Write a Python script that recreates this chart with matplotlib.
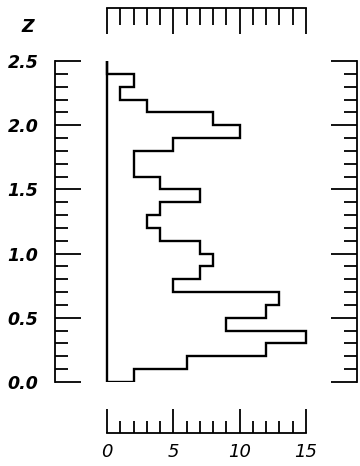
import matplotlib
matplotlib.use('Agg')
import matplotlib.pyplot as plt
from matplotlib.ticker import MultipleLocator
import numpy as np

# counts per 0.1 bin of z, from z=0.0 up to z=2.5
z_edges = [round(0.1 * i, 1) for i in range(26)]
counts = [2, 6, 12, 15, 9, 12, 13, 5, 7, 8, 7, 4, 3, 4, 7, 4, 2, 2, 5, 10, 8, 3, 1, 2, 0]
z_ticks = [0.0, 0.5, 1.0, 1.5, 2.0, 2.5]
z_labels = ['0.0', '0.5', '1.0', '1.5', '2.0', '2.5']
n_ticks = [0, 5, 10, 15]
n_labels = ['0', '5', '10', '15']

W, H = 360, 466
fig = plt.figure(figsize=(W / 100, H / 100), dpi=100)

def px(x0, y0, x1, y1):
    # pixel box -> figure fraction rect
    return [x0 / W, 1 - y1 / H, (x1 - x0) / W, (y1 - y0) / H]

lw = 1.3
label_font = dict(fontsize=12.5, fontstyle='italic', fontweight='bold', family='DejaVu Sans')

# main panel
x0_px, x15_px = 107, 306
ppu = (x15_px - x0_px) / 15
left_px, right_px = 55, 357
ax = fig.add_axes(px(left_px, 61, right_px, 382))
ax.set_xlim((left_px - x0_px) / ppu, (right_px - x0_px) / ppu)
ax.set_ylim(0, 2.5)

ax.stairs(counts, z_edges, orientation='horizontal', baseline=0,
          color='black', linewidth=1.7)
ax.plot([0, 0], [0, 2.5], color='black', linewidth=1.7)

for s in ['top', 'bottom']:
    ax.spines[s].set_visible(False)
for s in ['left', 'right']:
    ax.spines[s].set_linewidth(lw)

ax.set_xticks([])
ax.set_yticks(z_ticks)
ax.set_yticklabels(z_labels, **label_font)
ax.yaxis.set_minor_locator(MultipleLocator(0.1))
ax.tick_params(axis='y', which='both', direction='in', left=True, right=True,
               width=lw, pad=12)
ax.tick_params(axis='y', which='major', length=19)
ax.tick_params(axis='y', which='minor', length=9.5)

fig.text(28 / W, 1 - 27 / H, 'Z', ha='center', va='center', **label_font)

# top scale (detached, ticks down)
ax_top = fig.add_axes(px(x0_px, 8, x15_px, 8.01))
ax_top.set_xlim(0, 15)
for s in ['top', 'left', 'right']:
    ax_top.spines[s].set_visible(False)
ax_top.spines['bottom'].set_linewidth(lw)
ax_top.set_yticks([])
ax_top.set_xticks(n_ticks)
ax_top.set_xticklabels([])
ax_top.xaxis.set_minor_locator(MultipleLocator(1))
ax_top.tick_params(axis='x', which='both', direction='out', width=lw)
ax_top.tick_params(axis='x', which='major', length=19)
ax_top.tick_params(axis='x', which='minor', length=12)

# bottom scale (detached, ticks up)
ax_bot = fig.add_axes(px(x0_px, 433, x15_px, 433.01))
ax_bot.set_xlim(0, 15)
for s in ['top', 'left', 'right']:
    ax_bot.spines[s].set_visible(False)
ax_bot.spines['bottom'].set_linewidth(lw)
ax_bot.set_yticks([])
ax_bot.set_xticks(n_ticks)
ax_bot.set_xticklabels(n_labels, fontsize=13, fontstyle='italic', family='DejaVu Sans')
ax_bot.xaxis.set_minor_locator(MultipleLocator(1))
ax_bot.tick_params(axis='x', which='both', direction='in', width=lw, pad=7)
ax_bot.tick_params(axis='x', which='major', length=17)
ax_bot.tick_params(axis='x', which='minor', length=8.5)

fig.savefig('out.png', dpi=100)
